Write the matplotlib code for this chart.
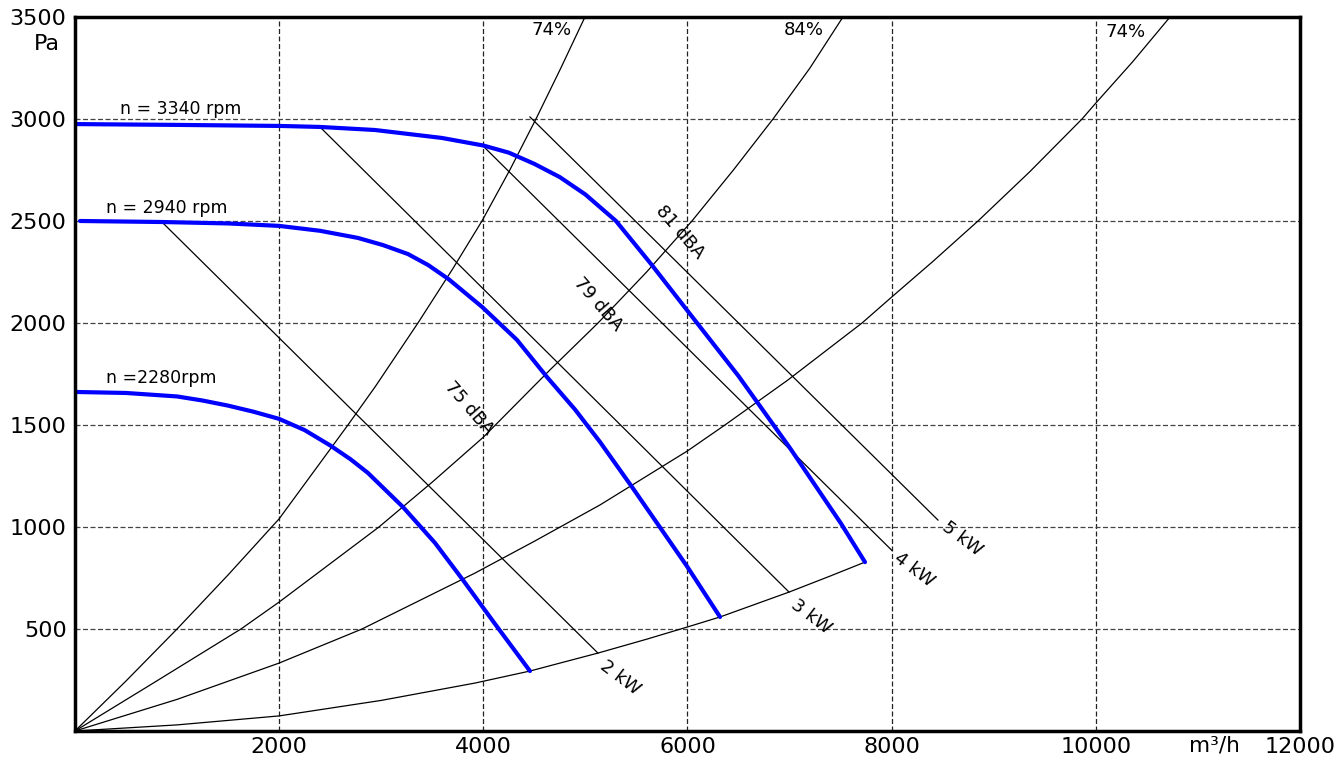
import matplotlib
matplotlib.use("Agg")
from matplotlib import pyplot as plt

# fan curves (m3/h, Pa)
q_3340 = [0, 1000, 2000, 2400, 2939, 3595, 4000, 4250, 4500, 4750, 5000, 5300, 5650, 6000, 6500, 7000, 7500, 7739]
p_3340 = [2975, 2971, 2966, 2961, 2946, 2907, 2870, 2835, 2780, 2715, 2630, 2500, 2285, 2060, 1740, 1390, 1020, 828]
q_2940 = [50, 852, 1500, 2000, 2400, 2772, 3017, 3262, 3460, 3660, 3990, 4330, 4624, 4900, 5143, 5457, 6000, 6319]
p_2940 = [2500, 2495, 2488, 2476, 2452, 2417, 2382, 2338, 2284, 2215, 2078, 1917, 1735, 1575, 1417, 1196, 804, 559]
q_2280 = [0, 500, 1000, 1250, 1500, 1750, 2000, 2250, 2500, 2700, 2870, 3213, 3527, 3801, 4100, 4457]
p_2280 = [1662, 1657, 1640, 1620, 1595, 1565, 1530, 1475, 1400, 1332, 1265, 1098, 922, 740, 535, 294]
speed_labels = ["n = 3340 rpm", "n = 2940 rpm", "n =2280rpm"]
speed_label_pos = [(441, 3005), (304, 2520), (304, 1686)]

# efficiency / system curves
q_eff74a = [0, 500, 1000, 1500, 2000, 2674, 2939, 3360, 3700, 3987, 4260, 4516, 4760, 4996]
p_eff74a = [0, 245, 500, 765, 1040, 1500, 1686, 2000, 2265, 2500, 2750, 3000, 3250, 3500]
q_eff84 = [0, 800, 1626, 2000, 2978, 3500, 4000, 4653, 5124, 5600, 6044, 6450, 6838, 7200, 7523]
p_eff84 = [0, 245, 500, 632, 1000, 1220, 1440, 1770, 2000, 2250, 2500, 2750, 3000, 3250, 3500]
q_eff74b = [0, 1000, 2000, 2812, 3918, 4500, 5143, 6000, 6367, 6985, 7710, 8000, 8400, 8846, 9350, 9865, 10000, 10360, 10727]
p_eff74b = [0, 155, 333, 500, 774, 930, 1108, 1373, 1500, 1721, 2000, 2127, 2300, 2500, 2740, 3000, 3078, 3280, 3500]
q_limit = [0, 1000, 2000, 3000, 3918, 4457, 4751, 5123, 5600, 6000, 6319, 6995, 7400, 7739]
p_limit = [0, 30, 74, 150, 235, 294, 333, 382, 450, 510, 559, 681, 760, 828]
eff_labels = ["74%", "84%", "74%"]
eff_label_pos = [(4673, 3436), (7141, 3436), (10296, 3427)]

# power lines (start, end)
kw_lines = {
    "2 kW": [(852, 2495), (5123, 382)],
    "3 kW": [(2400, 2961), (6995, 681)],
    "4 kW": [(3987, 2873), (8003, 885)],
    "5 kW": [(4457, 3010), (8454, 1034)],
}
kw_label_pos = {"2 kW": (5339, 260), "3 kW": (7210, 559), "4 kW": (8219, 789), "5 kW": (8689, 941)}

dba_labels = ["75 dBA", "79 dBA", "81 dBA"]
dba_label_pos = [(3860, 1583), (5123, 2093), (5927, 2446)]

x_ticks = [2000, 4000, 6000, 8000, 10000, 12000]
y_ticks = [500, 1000, 1500, 2000, 2500, 3000, 3500]

plt.rcParams['font.family'] = ['DejaVu Sans']
fig = plt.figure(figsize=(13.38, 7.58), dpi=100)
ax = fig.add_axes([0.056, 0.0356, 0.9156, 0.942])

ax.set_xlim(0, 12000)
ax.set_ylim(0, 3500)

# grid
for x in x_ticks[:-1]:
    ax.axvline(x, color='#222222', lw=0.9, ls=(0, (4, 2)), zorder=1)
for y in y_ticks[:-1]:
    ax.axhline(y, color='#444444', lw=0.9, ls=(0, (4, 2)), zorder=1)

thin = dict(color='black', lw=0.9, zorder=2)
ax.plot(q_eff74a, p_eff74a, **thin)
ax.plot(q_eff84, p_eff84, **thin)
ax.plot(q_eff74b, p_eff74b, **thin)
ax.plot(q_limit, p_limit, **thin)
for name, pts in kw_lines.items():
    ax.plot([pts[0][0], pts[1][0]], [pts[0][1], pts[1][1]], **thin)

for q, p in [(q_3340, p_3340), (q_2940, p_2940), (q_2280, p_2280)]:
    ax.plot(q, p, color='#0000ff', lw=3, solid_capstyle='round', solid_joinstyle='round', zorder=3)

for lab, (x, y) in zip(speed_labels, speed_label_pos):
    ax.text(x, y, lab, fontsize=12.5, ha='left', va='bottom', zorder=4)
for lab, (x, y) in zip(eff_labels, eff_label_pos):
    ax.text(x, y, lab, fontsize=13, ha='center', va='center', zorder=4)
for name, (x, y) in kw_label_pos.items():
    ax.text(x, y, name, fontsize=13, ha='center', va='center', rotation=-37, zorder=4)
for lab, (x, y) in zip(dba_labels, dba_label_pos):
    ax.text(x, y, lab, fontsize=13, ha='center', va='center', rotation=-49, zorder=4)

ax.set_xticks(x_ticks)
ax.set_xticklabels([str(t) for t in x_ticks])
ax.set_yticks(y_ticks)
ax.set_yticklabels([str(t) for t in y_ticks])
ax.tick_params(length=0, labelsize=16, pad=4)
ax.tick_params(axis='y', pad=6)
ax.text(11158, -20, "m³/h", fontsize=15.5, ha='center', va='top')
ax.text(-0.012, 0.962, "Pa", transform=ax.transAxes, fontsize=16, ha='right', va='center')

for s in ax.spines.values():
    s.set_linewidth(2.5)
    s.set_zorder(5)

fig.savefig("out.png", dpi=100)
